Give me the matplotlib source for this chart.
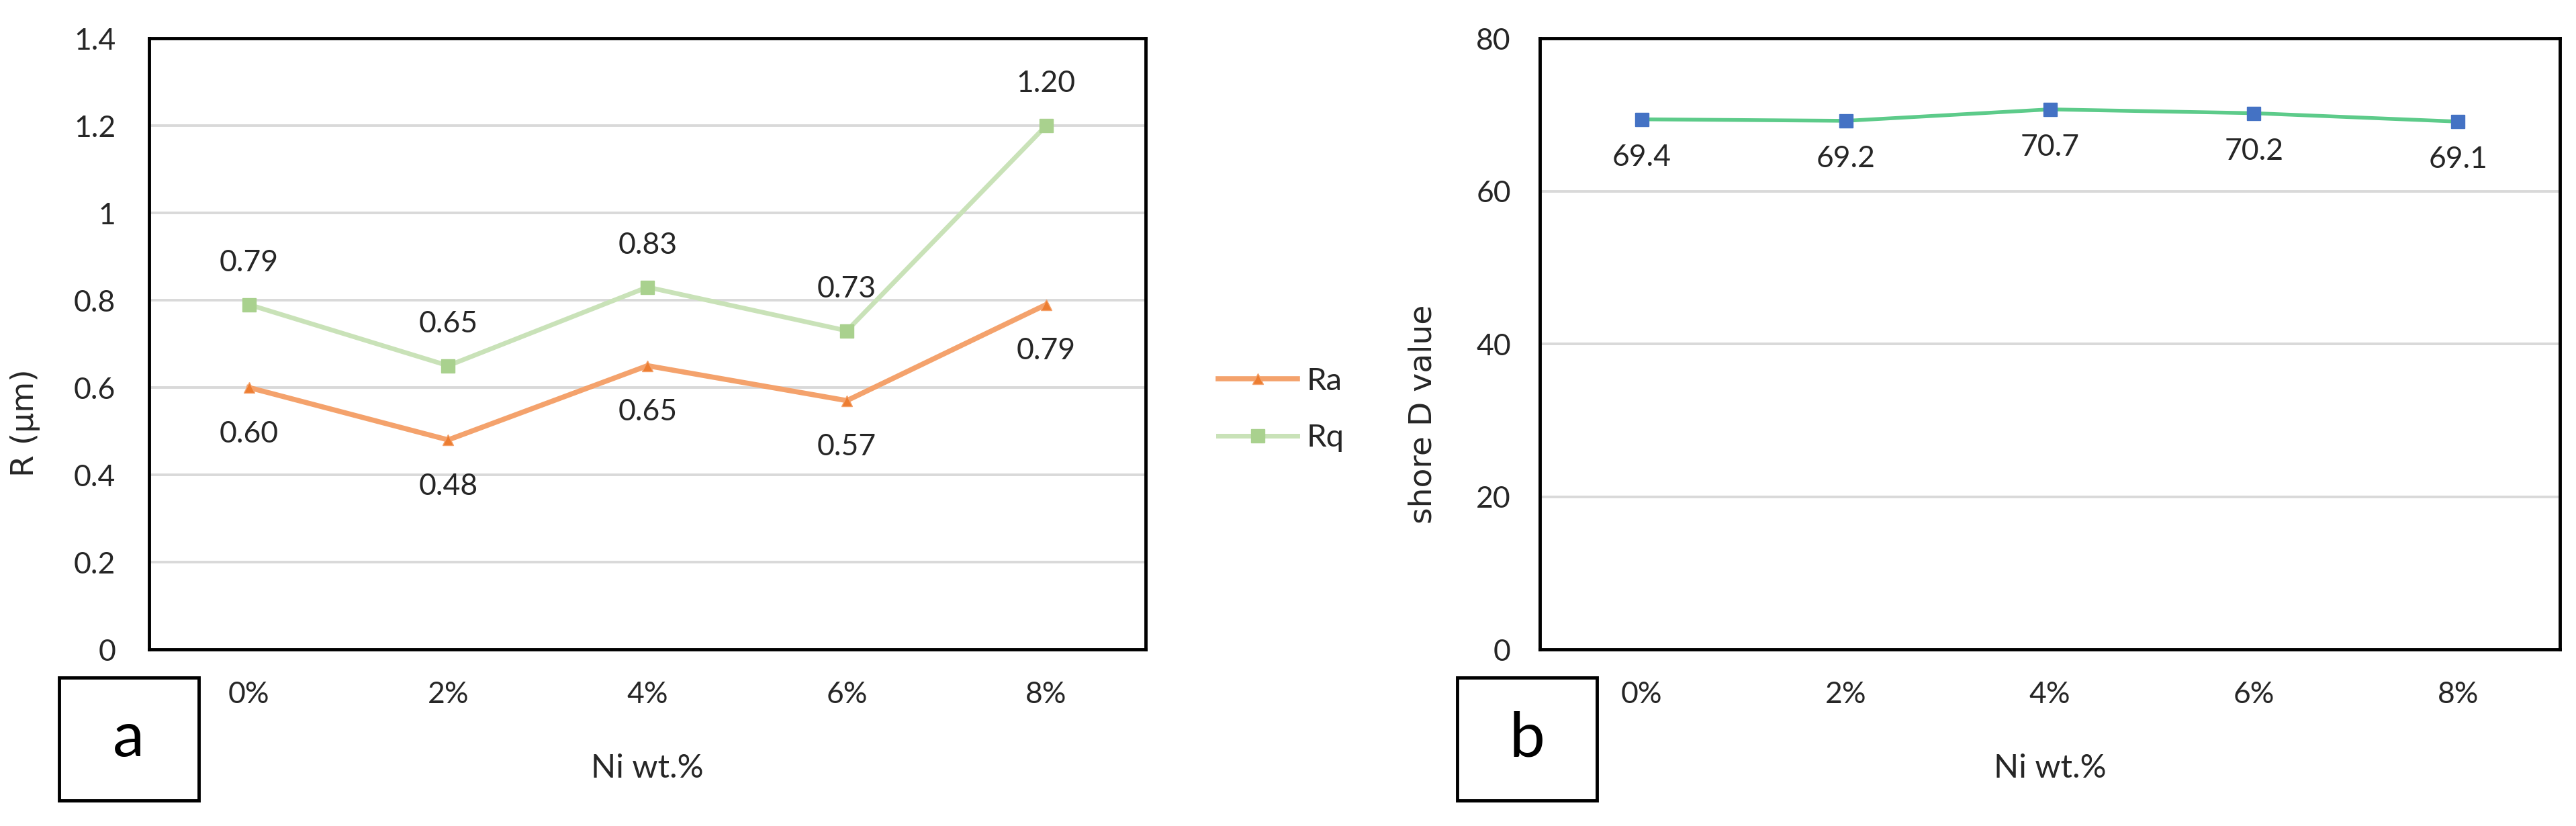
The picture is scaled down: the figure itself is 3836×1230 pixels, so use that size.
import matplotlib
matplotlib.use("Agg")
import matplotlib.pyplot as plt
from matplotlib.patches import Rectangle

plt.rcParams["font.family"] = ["Lato", "DejaVu Sans"]

categories = ["0%", "2%", "4%", "6%", "8%"]
ra = [0.60, 0.48, 0.65, 0.57, 0.79]
rq = [0.79, 0.65, 0.83, 0.73, 1.20]
shore = [69.4, 69.2, 70.7, 70.2, 69.1]

text_c = "#262626"
grid_c = "#D9D9D9"

fig = plt.figure(figsize=(38.37, 12.30), dpi=100)

ax1 = fig.add_axes([0.0579, 0.2138, 0.3868, 0.7398])
ax2 = fig.add_axes([0.5976, 0.2138, 0.3959, 0.7398])

x = list(range(len(categories)))


def style(ax, ylim, yticks, ypad):
    ax.set_xlim(-0.5, len(categories) - 0.5)
    ax.set_ylim(*ylim)
    ax.set_yticks(yticks)
    ax.set_xticks(x)
    ax.set_xticklabels(categories)
    ax.tick_params(axis="both", length=0, labelsize=32, colors=text_c)
    ax.tick_params(axis="x", pad=34)
    ax.tick_params(axis="y", pad=ypad)
    for s in ax.spines.values():
        s.set_linewidth(3.5)
        s.set_color("black")
    ax.yaxis.grid(True, color=grid_c, linewidth=2.8)
    ax.set_axisbelow(True)
    ax.set_xlabel("Ni wt.%", fontsize=35, color=text_c)
    ax.xaxis.set_label_coords(0.5, -0.17)


style(ax1, (0, 1.4), [0, 0.2, 0.4, 0.6, 0.8, 1.0, 1.2, 1.4], 36)
ax1.set_yticklabels(["0", "0.2", "0.4", "0.6", "0.8", "1", "1.2", "1.4"])
style(ax2, (0, 80), [0, 20, 40, 60, 80], 31)

ax1.plot(x, ra, color="#F4A26C", linewidth=5.5, marker="^", markersize=11,
         markerfacecolor="#ED7D31", markeredgecolor="#F4A26C", label="Ra", zorder=3)
ax1.plot(x, rq, color="#C9E2B8", linewidth=5, marker="s", markersize=15,
         markerfacecolor="#A9D18E", markeredgecolor="#A9D18E", label="Rq", zorder=3)

for xi, v in zip(x, ra):
    ax1.annotate(f"{v:.2f}", (xi, v), xytext=(0, -50), textcoords="offset points",
                 ha="center", va="center", fontsize=32, color=text_c)
for xi, v in zip(x, rq):
    ax1.annotate(f"{v:.2f}", (xi, v), xytext=(0, 45), textcoords="offset points",
                 ha="center", va="center", fontsize=32, color=text_c)

ax1.set_ylabel("R (μm)", fontsize=34, color=text_c, family="DejaVu Sans")
ax1.yaxis.set_label_coords(-0.109, 0.371)

fig.legend(handles=ax1.get_lines(), labels=["Ra", "Rq"], loc="center left",
           bbox_to_anchor=(0.4665, 0.504), frameon=False, fontsize=34,
           handlelength=2.5, handletextpad=0.3, labelspacing=0.9, borderpad=0,
           labelcolor=text_c)

ax2.plot(x, shore, color="#5DCB8A", linewidth=4, marker="s", markersize=14,
         markerfacecolor="#4472C4", markeredgecolor="#4472C4", zorder=3)
for xi, v in zip(x, shore):
    ax2.annotate(f"{v:.1f}", (xi, v), xytext=(0, -41), textcoords="offset points",
                 ha="center", va="center", fontsize=32, color=text_c)

ax2.set_ylabel("shore D value", fontsize=34, color=text_c, family="DejaVu Sans")
ax2.yaxis.set_label_coords(-0.100, 0.385)

# panel letter boxes
for left, letter in [(0.0229, "a"), (0.5655, "b")]:
    fig.patches.append(Rectangle((left, 0.0309), 0.0542, 0.1488, transform=fig.transFigure,
                                 fill=False, edgecolor="black", linewidth=3.5))
    fig.text(left + 0.0271, 0.0309 + 0.0744, letter, fontsize=68, ha="center",
             va="center", color="black")

fig.savefig("out.png", dpi=100, facecolor="white")
